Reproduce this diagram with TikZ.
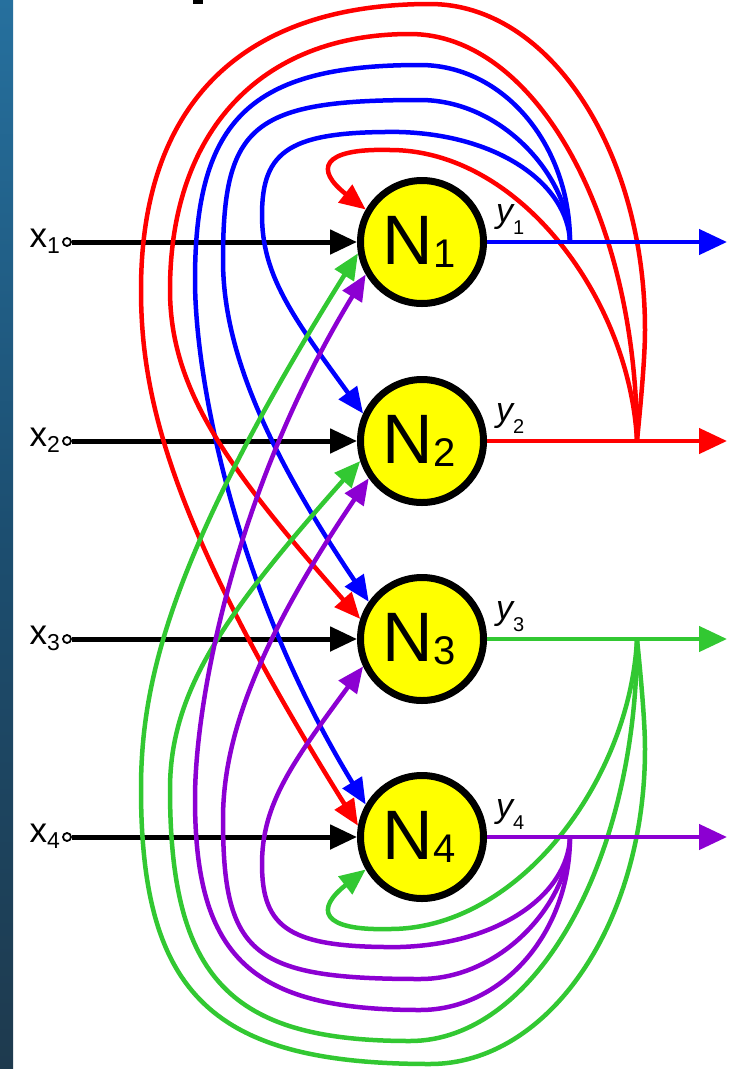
\documentclass[tikz,border=0pt]{standalone}
\usepackage{fontspec}
\setmainfont{Liberation Sans}
\usetikzlibrary{arrows.meta}
\definecolor{cred}{RGB}{255,0,0}
\definecolor{cblue}{RGB}{0,0,255}
\definecolor{cgreen}{RGB}{50,200,50}
\definecolor{cpurple}{RGB}{140,0,210}
\definecolor{nyellow}{RGB}{255,255,0}
\definecolor{stripTop}{RGB}{38,112,158}
\definecolor{stripMid}{RGB}{28,78,112}
\definecolor{stripBot}{RGB}{30,58,78}
\newcommand\nlab[1]{\hspace*{-6pt}\fontsize{70}{70}\selectfont N\raisebox{-3pt}{\fontsize{40}{40}\selectfont #1}}
\newcommand\xlab[1]{\fontsize{35}{35}\selectfont x\raisebox{-6pt}{\fontsize{23}{23}\selectfont #1}}
\newcommand\ylab[1]{\fontsize{34}{34}\selectfont\itshape y\upshape\raisebox{-12pt}{\fontsize{20}{20}\selectfont #1}}
\begin{document}
\begin{tikzpicture}[x=1pt,y=-1pt,
  neuron/.style={circle, draw=black, fill=nyellow, line width=7pt, minimum size=123pt, inner sep=0pt},
  indot/.style={circle, draw=black, fill=white, line width=1.8pt, minimum size=8pt, inner sep=0pt},
  fb/.style={line width=4.5pt, -{Triangle[length=26pt,width=22pt]}},
  outarrow/.style={line width=4.5pt, -{Triangle[length=28pt,width=25pt]}},
  inarrow/.style={line width=5pt, black, -{Triangle[length=27pt,width=24pt]}},
  lab/.style={inner sep=0pt, text=black}]
\useasboundingbox (0,0) rectangle (732,1069);
\fill[white] (0,0) rectangle (732,1069);
\shade[top color=stripTop, bottom color=stripBot, middle color=stripMid] (0,0) rectangle (13,1069);
\fill[black] (193,0) rectangle (203,4);

% neurons
\node[neuron] (N1) at (422,242) {\nlab{1}};
\node[neuron] (N2) at (422,441) {\nlab{2}};
\node[neuron] (N3) at (422,639) {\nlab{3}};
\node[neuron] (N4) at (422,837) {\nlab{4}};

% inputs
\node[indot] (d1) at (67,242) {};
\node[indot] (d2) at (67,441) {};
\node[indot] (d3) at (67,639) {};
\node[indot] (d4) at (67,837) {};
\node[lab, anchor=base east] (x1) at (60,247) {\xlab{1}};
\node[lab, anchor=base east] (x2) at (60,446) {\xlab{2}};
\node[lab, anchor=base east] (x3) at (60,644) {\xlab{3}};
\node[lab, anchor=base east] (x4) at (60,842) {\xlab{4}};
\draw[inarrow] (d1) -- (N1);
\draw[inarrow] (d2) -- (N2);
\draw[inarrow] (d3) -- (N3);
\draw[inarrow] (d4) -- (N4);

% outputs
\coordinate (o1) at (727,242);
\coordinate (o2) at (727,441);
\coordinate (o3) at (727,639);
\coordinate (o4) at (727,837);
\coordinate (b1) at (570,242);
\coordinate (b2) at (637,441);
\coordinate (b3) at (637,639);
\coordinate (b4) at (570,837);
\node[lab, anchor=base west] (y1) at (496,222) {\ylab{1}};
\node[lab, anchor=base west] (y2) at (496,421) {\ylab{2}};
\node[lab, anchor=base west] (y3) at (496,619) {\ylab{3}};
\node[lab, anchor=base west] (y4) at (496,817) {\ylab{4}};

% feedback from y1 (blue)
\draw[fb, cblue] (b1) .. controls (570,144) and (503,65) .. (420,65)
  .. controls (251,65) and (195,119) .. (195,280)
  .. controls (195,380) and (236,592) .. (N4.150);
\draw[fb, cblue] (b1) .. controls (570,178) and (503,100) .. (420,100)
  .. controls (253,100) and (223,124) .. (223,260)
  .. controls (223,340) and (257,436) .. (N3.145);
\draw[fb, cblue] (b1) .. controls (568,185) and (500,135) .. (400,132)
  .. controls (290,131) and (262,150) .. (262,215)
  .. controls (262,275) and (292,316) .. (N2.155);

% feedback from y2 (red)
\draw[fb, cred] (b2) .. controls (640,410) and (645,360) .. (645,330)
  .. controls (645,150) and (549,4) .. (430,4)
  .. controls (242,4) and (141,104) .. (141,290)
  .. controls (141,400) and (172,528) .. (N4.170);
\draw[fb, cred] (b2) .. controls (637,216) and (535,34) .. (410,34)
  .. controls (261,34) and (170,131) .. (170,290)
  .. controls (170,390) and (228,469) .. (N3.162);
\draw[fb, cred] (b2) .. controls (630,300) and (520,150) .. (390,150)
  .. controls (320,148) and (315,170) .. (N1.150);

% feedback from y3 (green)
\draw[fb, cgreen] (b3) .. controls (640,669) and (645,719) .. (645,749)
  .. controls (645,923) and (549,1064) .. (430,1064)
  .. controls (213,1064) and (141,995) .. (141,789)
  .. controls (141,679) and (172,551) .. (N1.190);
\draw[fb, cgreen] (b3) .. controls (637,861) and (535,1041) .. (410,1041)
  .. controls (230,1041) and (170,978) .. (170,789)
  .. controls (170,689) and (228,610) .. (N2.198);
\draw[fb, cgreen] (b3) .. controls (630,779) and (520,929) .. (390,929)
  .. controls (320,931) and (315,909) .. (N4.210);

% feedback from y4 (purple)
\draw[fb, cpurple] (b4) .. controls (570,932) and (503,1010) .. (420,1010)
  .. controls (251,1010) and (195,957) .. (195,799)
  .. controls (195,699) and (236,487) .. (N1.210);
\draw[fb, cpurple] (b4) .. controls (570,901) and (503,979) .. (420,979)
  .. controls (253,979) and (223,955) .. (223,819)
  .. controls (223,739) and (257,643) .. (N2.215);
\draw[fb, cpurple] (b4) .. controls (568,894) and (500,944) .. (400,947)
  .. controls (290,948) and (262,929) .. (262,864)
  .. controls (262,804) and (292,763) .. (N3.205);

% output lines
\draw[outarrow, cblue] (N1) -- (o1);
\draw[outarrow, cred] (N2) -- (o2);
\draw[outarrow, cgreen] (N3) -- (o3);
\draw[outarrow, cpurple] (N4) -- (o4);
\end{tikzpicture}
\end{document}
